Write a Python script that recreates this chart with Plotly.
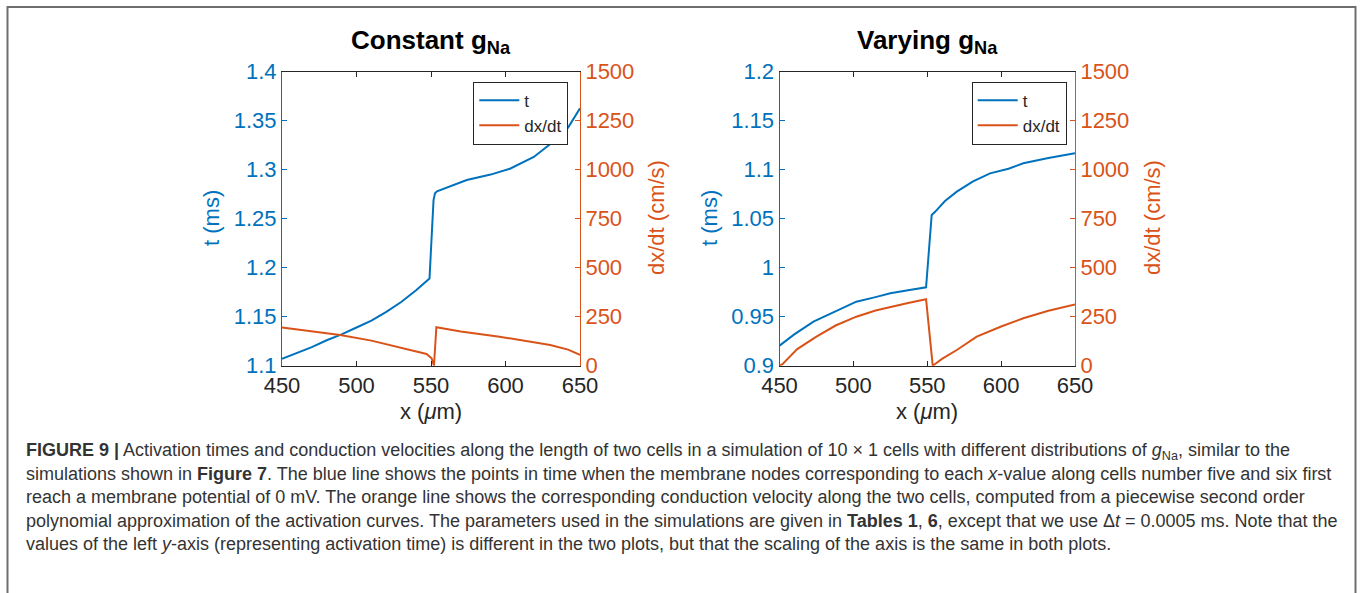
import plotly.graph_objects as go

# ---------------- data ----------------
x_ticks = [450, 500, 550, 600, 650]
x_tick_text = ["450", "500", "550", "600", "650"]

t_ticks_const = [1.1, 1.15, 1.2, 1.25, 1.3, 1.35, 1.4]
t_tick_text_const = ["1.1", "1.15", "1.2", "1.25", "1.3", "1.35", "1.4"]
t_ticks_vary = [0.9, 0.95, 1.0, 1.05, 1.1, 1.15, 1.2]
t_tick_text_vary = ["0.9", "0.95", "1", "1.05", "1.1", "1.15", "1.2"]
v_ticks = [0, 250, 500, 750, 1000, 1250, 1500]
v_tick_text = ["0", "250", "500", "750", "1000", "1250", "1500"]

# Constant gNa
x_const_t = [450, 460, 470, 480, 490, 500, 510, 520, 530, 540, 549, 551.7, 552.7, 554, 565, 574, 590, 603, 619, 632, 642, 650]
t_const = [1.107, 1.113, 1.119, 1.126, 1.132, 1.139, 1.146, 1.155, 1.165, 1.177, 1.189, 1.269, 1.276, 1.278, 1.284, 1.2895, 1.295, 1.301, 1.313, 1.3286, 1.343, 1.3626]
x_const_v = [450, 470, 489, 510, 527, 540, 547, 550.4, 552, 553.6, 570, 596, 615, 630, 642, 650]
v_const = [195, 176, 157, 128, 97, 74, 60, 38, 0, 196, 175, 148, 126, 106, 82, 55]

# Varying gNa
x_vary_t = [450, 460, 473, 487, 502, 515, 525, 537, 549.2, 553, 555.3, 562, 570, 581, 592.5, 605, 615, 632, 650]
t_vary = [0.9204, 0.932, 0.9449, 0.955, 0.9653, 0.970, 0.9739, 0.977, 0.980, 1.0538, 1.057, 1.068, 1.0776, 1.088, 1.0963, 1.101, 1.1065, 1.112, 1.1167]
x_vary_v = [450, 452, 462, 475, 488, 502, 515, 525, 537, 549.2, 553.7, 560, 570, 583.5, 600, 615, 632, 650]
v_vary = [0, 8, 85, 148, 205, 250, 282, 301, 320, 339, 0, 35, 80, 148, 200, 242, 280, 312]

BLUE = "#0072BD"
ORANGE = "#D95319"
DARK = "#262626"
FONT = "Liberation Sans"
W, H = 1360, 593


def fx(p):
    return p / W


def fy(p):
    return 1 - p / H


ydom = [fy(365.7), fy(71.7)]
xdomL = [fx(282), fx(580)]
xdomR = [fx(779.5), fx(1075)]

fig = go.Figure()
fig.add_trace(go.Scatter(x=x_const_t, y=t_const, xaxis="x", yaxis="y", name="t", mode="lines",
                         line=dict(color=BLUE, width=2), legend="legend"))
fig.add_trace(go.Scatter(x=x_const_v, y=v_const, xaxis="x", yaxis="y2", name="dx/dt", mode="lines",
                         line=dict(color=ORANGE, width=2), legend="legend"))
fig.add_trace(go.Scatter(x=x_vary_t, y=t_vary, xaxis="x2", yaxis="y3", name="t", mode="lines",
                         line=dict(color=BLUE, width=2), legend="legend2"))
fig.add_trace(go.Scatter(x=x_vary_v, y=v_vary, xaxis="x2", yaxis="y4", name="dx/dt", mode="lines",
                         line=dict(color=ORANGE, width=2), legend="legend2"))

tickfont_x = dict(family=FONT, size=22, color=DARK)


def xax(dom, anchor):
    return dict(domain=dom, anchor=anchor, range=[450, 650], tickvals=x_ticks, ticktext=x_tick_text,
                ticks="inside", ticklen=5, tickcolor=DARK, showline=True, linecolor=DARK, linewidth=1,
                mirror="ticks", tickfont=tickfont_x, showgrid=False, zeroline=False, automargin=False,
                fixedrange=True)


def yleft(anchor, rng, tv, tt):
    return dict(domain=ydom, anchor=anchor, range=rng, tickvals=tv, ticktext=tt, ticks="inside", ticklen=5,
                tickcolor=BLUE, showline=True, linecolor=BLUE, linewidth=1,
                tickfont=dict(family=FONT, size=22, color=BLUE), showgrid=False, zeroline=False,
                automargin=False, side="left")


def yright(anchor, over):
    return dict(domain=ydom, anchor=anchor, overlaying=over, side="right", range=[0, 1500], tickvals=v_ticks,
                ticktext=v_tick_text, ticks="inside", ticklen=5, tickcolor=ORANGE, showline=True,
                linecolor=ORANGE, linewidth=1, tickfont=dict(family=FONT, size=22, color=ORANGE),
                showgrid=False, zeroline=False, automargin=False)


legend_style = dict(bgcolor="white", bordercolor=DARK, borderwidth=1, font=dict(family=FONT, size=17, color=DARK),
                    xanchor="right", yanchor="top", tracegroupgap=0, itemwidth=40)

annotations = []
# titles
for txt, cx in [("<b>Constant g<sub>Na</sub></b>", 431), ("<b>Varying g<sub>Na</sub></b>", 927)]:
    annotations.append(dict(text=txt, x=fx(cx), y=fy(23), xref="paper", yref="paper", xanchor="center",
                            yanchor="top", showarrow=False, font=dict(family=FONT, size=26, color="black")))
# axis titles
for txt, cx, col, ang in [("t (ms)", 211, BLUE, -90), ("dx/dt (cm/s)", 656, ORANGE, -90),
                          ("t (ms)", 709, BLUE, -90), ("dx/dt (cm/s)", 1152, ORANGE, -90)]:
    annotations.append(dict(text=txt, x=fx(cx), y=fy(218), xref="paper", yref="paper", xanchor="center",
                            yanchor="middle", showarrow=False, textangle=ang,
                            font=dict(family=FONT, size=22, color=col)))
for cx in [431, 927]:
    annotations.append(dict(text="x (<i>\u03bc</i>m)", x=fx(cx), y=fy(411), xref="paper", yref="paper",
                            xanchor="center", yanchor="middle", showarrow=False,
                            font=dict(family=FONT, size=22, color=DARK)))

caption_lines = [
    "<b>FIGURE 9 |</b> Activation times and conduction velocities along the length of two cells in a simulation of 10 \u00d7 1 cells with different distributions of <i>g</i><sub>Na</sub>, similar to the",
    "simulations shown in <b>Figure 7</b>. The blue line shows the points in time when the membrane nodes corresponding to each <i>x</i>-value along cells number five and six first",
    "reach a membrane potential of 0 mV. The orange line shows the corresponding conduction velocity along the two cells, computed from a piecewise second order",
    "polynomial approximation of the activation curves. The parameters used in the simulations are given in <b>Tables 1</b>, <b>6</b>, except that we use \u0394<i>t</i> = 0.0005 ms. Note that the",
    "values of the left <i>y</i>-axis (representing activation time) is different in the two plots, but that the scaling of the axis is the same in both plots.",
]
caption_y = [449, 472.5, 496, 519.5, 543]
for txt, cy in zip(caption_lines, caption_y):
    annotations.append(dict(text=txt, x=fx(24), y=fy(cy - 11), xref="paper", yref="paper", xanchor="left",
                            yanchor="top", showarrow=False, align="left",
                            font=dict(family=FONT, size=18, color="#333333")))

shapes = [
    dict(type="line", xref="paper", yref="paper", x0=fx(7), x1=fx(1356), y0=fy(7), y1=fy(7),
         line=dict(color="#6e6e6e", width=2)),
    dict(type="line", xref="paper", yref="paper", x0=fx(7.5), x1=fx(7.5), y0=fy(6), y1=fy(600),
         line=dict(color="#6e6e6e", width=2)),
    dict(type="line", xref="paper", yref="paper", x0=fx(1355.5), x1=fx(1355.5), y0=fy(6), y1=fy(600),
         line=dict(color="#6e6e6e", width=2)),
]

fig.update_layout(
    template="none",
    width=W, height=H,
    margin=dict(l=0, r=0, t=0, b=0),
    paper_bgcolor="white", plot_bgcolor="rgba(0,0,0,0)",
    xaxis=xax(xdomL, "y"),
    yaxis=yleft("x", [1.1, 1.4], t_ticks_const, t_tick_text_const),
    yaxis2=yright("x", "y"),
    xaxis2=xax(xdomR, "y3"),
    yaxis3=yleft("x2", [0.9, 1.2], t_ticks_vary, t_tick_text_vary),
    yaxis4=yright("x2", "y3"),
    legend=dict(x=fx(568.3), y=fy(81.7), **legend_style),
    legend2=dict(x=fx(1066.7), y=fy(81.7), **legend_style),
    annotations=annotations,
    shapes=shapes,
    showlegend=True,
)
fig.update_yaxes(fixedrange=True)

fig.write_html("out.html", config={"displayModeBar": False},
               post_script="document.body.style.margin='0';document.body.style.overflow='hidden';")
